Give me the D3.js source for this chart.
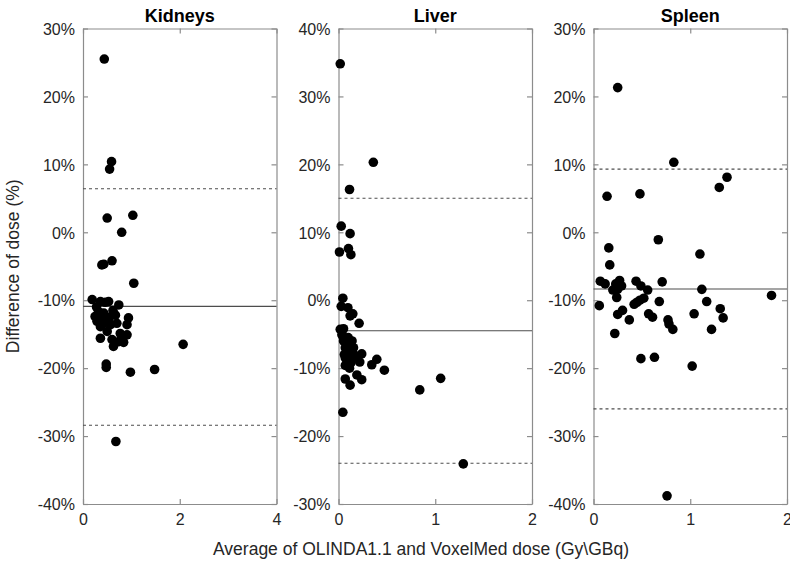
<!DOCTYPE html>
<html><head><meta charset="utf-8">
<script src="https://cdn.jsdelivr.net/npm/d3@7"></script>
<style>
html,body{margin:0;padding:0;background:#fff;}
svg{display:block;font-family:"Liberation Sans",Arial,sans-serif;}
</style></head>
<body>
<svg id="chart" width="790" height="566"></svg>
<script>
// ---- Data ----
const panelTitles = ["Kidneys", "Liver", "Spleen"];
const kidneysX = [0.44,0.59,0.55,0.5,1.03,0.8,0.39,0.43,0.60,1.05,
  0.19,0.36,0.46,0.53,0.74,0.32,0.25,0.43,0.67,0.70,0.94,0.91,0.57,0.36,0.29,0.5,0.77,0.91,0.36,0.6,0.74,0.63,0.84,0.81,2.07,0.48,0.48,0.98,1.48,0.68,
  0.30,0.40,0.55,0.62,0.28,0.45];
const kidneysY = [25.5,10.4,9.3,2.1,2.5,0.0,-4.8,-4.7,-4.2,-7.5,
  -9.9,-10.2,-10.3,-10.2,-10.7,-11.7,-12.4,-11.9,-12.2,-13.4,-12.6,-13.6,-13.6,-13.9,-13.1,-14.6,-14.9,-15.1,-15.6,-15.8,-16.1,-16.8,-16.2,-15.4,-16.5,-19.4,-19.9,-20.6,-20.2,-30.8,
  -12.8,-12.9,-12.5,-11.5,-11.0,-13.3];
const liverX = [0.018,0.36,0.114,0.028,0.12,0.103,0.01,0.128,
  0.045,0.028,0.097,0.148,0.12,0.213,0.018,0.052,0.035,0.052,0.14,0.07,0.155,0.103,0.24,0.19,0.07,0.12,0.396,0.22,0.344,0.07,0.114,0.474,0.07,0.19,0.24,0.12,1.056,0.84,0.045,1.29,
  0.09,0.16,0.13,0.06,0.10];
const liverY = [34.8,20.3,16.3,10.9,9.8,7.6,7.1,6.7,
  0.3,-0.9,-1.1,-2.0,-2.3,-3.4,-4.3,-4.2,-5.1,-6.0,-6.0,-7.0,-7.0,-7.5,-7.9,-8.4,-8.5,-8.7,-8.7,-9.1,-9.5,-9.6,-10.0,-10.3,-11.6,-11.0,-11.7,-12.5,-11.5,-13.2,-16.5,-24.1,
  -6.6,-8.0,-9.2,-8.0,-5.5];
const spleenX = [0.25,0.83,1.38,1.30,0.14,0.48,0.67,0.158,1.10,0.168,
  0.07,0.12,0.27,0.23,0.29,0.20,0.25,0.44,0.49,0.56,0.71,1.12,1.84,0.06,0.24,0.52,0.48,0.45,0.42,0.68,1.17,0.30,0.25,0.37,0.57,0.61,1.04,1.31,1.34,0.77,0.78,0.82,1.22,0.22,0.49,0.63,1.02,0.76];
const spleenY = [21.3,10.3,8.1,6.6,5.3,5.65,-1.1,-2.3,-3.2,-4.8,
  -7.2,-7.6,-7.1,-7.6,-7.9,-8.5,-8.4,-7.2,-7.9,-8.5,-7.3,-8.4,-9.3,-10.8,-9.6,-9.7,-10.0,-10.3,-10.6,-10.2,-10.2,-11.5,-12.1,-12.9,-12.0,-12.5,-12.0,-11.25,-12.6,-12.9,-13.5,-14.3,-14.3,-14.9,-18.6,-18.4,-19.7,-38.8];
const meanDiff = [-10.9, -4.5, -8.35];
const upperLimit = [6.4, 15.0, 9.3];
const lowerLimit = [-28.4, -24.0, -26.0];
const xMax = [4, 2, 2];
const yMin = [-40, -30, -40];
const yMax = [30, 40, 30];
const xTicks = [[0,2,4],[0,1,2],[0,1,2]];
const yLabel = "Difference of dose (%)";
const xLabel = "Average of OLINDA1.1 and VoxelMed dose (Gy\\GBq)";

const seriesX = [kidneysX, liverX, spleenX];
const seriesY = [kidneysY, liverY, spleenY];

// ---- Layout ----
const svg = d3.select("#chart");
const panelLeft = [83, 338.5, 593.5];
const panelW = 193.5;
const plotTop = 28.5, plotBottom = 504;
const frameColor = "#8c8c8c";
const textColor = "#262626";

panelTitles.forEach((title, i) => {
  const x = d3.scaleLinear().domain([0, xMax[i]]).range([panelLeft[i], panelLeft[i] + panelW]);
  const y = d3.scaleLinear().domain([yMin[i], yMax[i]]).range([plotBottom, plotTop]);
  const yT = d3.range(yMin[i], yMax[i] + 1, 10);
  const g = svg.append("g");

  const fmt = d => d + "%";
  const left = g.append("g").attr("transform", `translate(${panelLeft[i]},0)`)
    .call(d3.axisLeft(y).tickValues(yT).tickFormat(fmt).tickSizeInner(-5).tickSizeOuter(0).tickPadding(8));
  const right = g.append("g").attr("transform", `translate(${panelLeft[i] + panelW},0)`)
    .call(d3.axisRight(y).tickValues(yT).tickFormat("").tickSizeInner(-5).tickSizeOuter(0));
  const bot = g.append("g").attr("transform", `translate(0,${plotBottom})`)
    .call(d3.axisBottom(x).tickValues(xTicks[i]).tickFormat(d3.format("d")).tickSizeInner(-5).tickSizeOuter(0).tickPadding(9));
  const tp = g.append("g").attr("transform", `translate(0,${plotTop})`)
    .call(d3.axisTop(x).tickValues(xTicks[i]).tickFormat("").tickSizeInner(-5).tickSizeOuter(0));
  [left, right, bot, tp].forEach(a => {
    a.selectAll("path.domain").attr("stroke", frameColor).attr("stroke-width", 1.2);
    a.selectAll(".tick line").attr("stroke", frameColor).attr("stroke-width", 1.2);
    a.selectAll("text").attr("fill", textColor).style("font-size", "16px")
      .style("font-family", '"Liberation Sans",Arial,sans-serif');
  });
  left.selectAll("text").attr("dy", "0.36em");
  bot.selectAll("text").attr("dy", "0.72em");

  const x0 = panelLeft[i], x1 = panelLeft[i] + panelW;
  g.append("line").attr("x1", x0).attr("x2", x1).attr("y1", y(meanDiff[i])).attr("y2", y(meanDiff[i]))
    .attr("stroke", "#4d4d4d").attr("stroke-width", 1.1);
  [upperLimit[i], lowerLimit[i]].forEach(v => {
    g.append("line").attr("x1", x0).attr("x2", x1).attr("y1", y(v)).attr("y2", y(v))
      .attr("stroke", "#4d4d4d").attr("stroke-width", 1.1).attr("stroke-dasharray", "3,3");
  });

  g.append("g").selectAll("circle").data(d3.range(seriesX[i].length)).join("circle")
    .attr("cx", k => x(seriesX[i][k])).attr("cy", k => y(seriesY[i][k]))
    .attr("r", 4.8).attr("fill", "#000");

  g.append("text").attr("x", panelLeft[i] + panelW / 2).attr("y", plotTop - 7)
    .attr("text-anchor", "middle").attr("fill", "#000")
    .style("font-size", "18px").style("font-weight", "bold").text(title);
});

svg.append("text").attr("transform", `translate(19,${(plotTop + plotBottom) / 2}) rotate(-90)`)
  .attr("text-anchor", "middle").attr("fill", textColor).style("font-size", "17.5px").text(yLabel);
svg.append("text").attr("x", 421).attr("y", 555)
  .attr("text-anchor", "middle").attr("fill", textColor).style("font-size", "17.5px").text(xLabel);
</script>
</body></html>
